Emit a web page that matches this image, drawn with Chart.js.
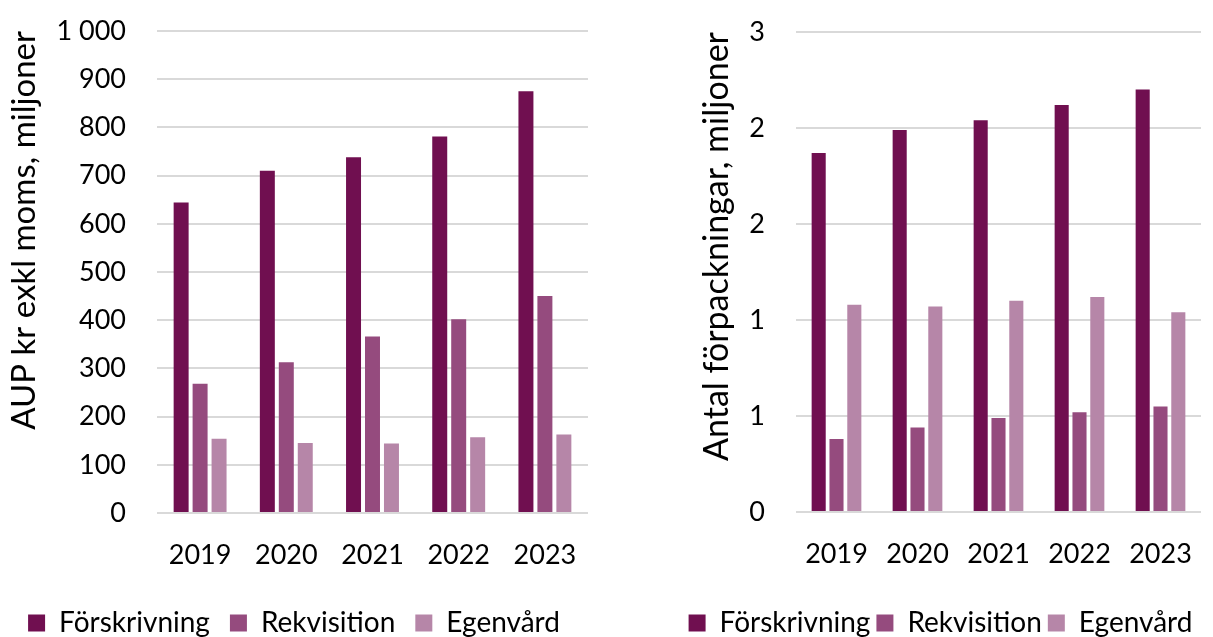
<!DOCTYPE html>
<html lang="sv">
  <head>
    <meta charset="UTF-8" />
    <title>AUP och förpackningar</title>
    <script src="https://cdn.jsdelivr.net/npm/chart.js"></script>
    <style>
      html, body { margin: 0; padding: 0; background: #fff; overflow: hidden; }
      .box { position: absolute; top: 0; height: 650px; }
      #boxLeft { left: 0; width: 600px; }
      #boxRight { left: 680px; width: 533px; }
    </style>
  </head>
  <body>
    <div class="box" id="boxLeft"><canvas id="chartAup" width="600" height="650"></canvas></div>
    <div class="box" id="boxRight"><canvas id="chartAntal" width="533" height="650"></canvas></div>
  </body>
</html>
<script>
  var years = ["2019", "2020", "2021", "2022", "2023"];
  var seriesNames = ["Förskrivning", "Rekvisition", "Egenvård"];
  var colors = ["#700f50", "#954b7e", "#b686a8"];

  // AUP kr exkl moms, miljoner
  var aupForskrivning = [644, 710, 738, 781, 875];
  var aupRekvisition = [268, 313, 366, 402, 450];
  var aupEgenvard = [154, 145, 144, 157, 163];

  // Antal förpackningar, miljoner
  var antalForskrivning = [1.87, 1.99, 2.04, 2.12, 2.2];
  var antalRekvisition = [0.38, 0.44, 0.49, 0.52, 0.55];
  var antalEgenvard = [1.08, 1.07, 1.1, 1.12, 1.04];

  Chart.defaults.font.family = "Lato";
  Chart.defaults.color = "#000";

  function byggChart(id, serier, cfg) {
    new Chart(document.getElementById(id), {
      type: "bar",
      data: {
        labels: years,
        datasets: serier.map(function (d, i) {
          return {
            label: seriesNames[i],
            data: d,
            backgroundColor: colors[i],
            borderWidth: 0,
            categoryPercentage: 0.66,
            barPercentage: 0.79,
          };
        }),
      },
      options: {
        responsive: false,
        animation: false,
        devicePixelRatio: 1,
        layout: { padding: { top: cfg.top, right: 12, bottom: 3, left: 0 } },
        plugins: {
          tooltip: { enabled: false },
          legend: {
            position: "bottom",
            labels: {
              font: { size: 28 },
              boxWidth: 17,
              boxHeight: 17,
              padding: cfg.legendPadding,
            },
          },
        },
        scales: {
          x: {
            grid: { display: false },
            border: { display: false },
            ticks: { font: { size: 27 }, padding: 18, maxRotation: 0 },
            afterFit: function (scale) {
              scale.height = cfg.xHeight;
            },
          },
          y: {
            min: 0,
            max: cfg.max,
            grid: { color: "#d9d9d9", lineWidth: 2, drawTicks: false },
            border: { display: false },
            ticks: {
              stepSize: cfg.step,
              font: { size: 27 },
              padding: 31,
              callback: cfg.fmt,
            },
            title: {
              display: true,
              text: cfg.title,
              align: "end",
              font: { size: cfg.titleSize },
              padding: { top: cfg.titlePad, bottom: 0 },
            },
            afterFit: function (scale) {
              scale.width = cfg.yWidth;
              // tick padding is only meant sideways here
              scale.paddingTop = 0;
              scale.paddingBottom = 0;
            },
          },
        },
      },
    });
  }

  byggChart("chartAup", [aupForskrivning, aupRekvisition, aupEgenvard], {
    max: 1000,
    step: 100,
    top: 31,
    title: "AUP kr exkl moms, miljoner",
    titleSize: 33,
    titlePad: 5,
    yWidth: 157,
    xHeight: 76,
    legendPadding: 20,
    fmt: function (v) {
      return String(v).replace(/\B(?=(\d{3})+(?!\d))/g, " ");
    },
  });

  byggChart("chartAntal", [antalForskrivning, antalRekvisition, antalEgenvard], {
    max: 2.5,
    step: 0.5,
    top: 32,
    title: "Antal förpackningar, miljoner",
    titleSize: 34,
    titlePad: 17,
    yWidth: 116,
    xHeight: 91,
    legendPadding: 6,
    fmt: function (v) {
      return Math.round(v);
    },
  });
</script>
